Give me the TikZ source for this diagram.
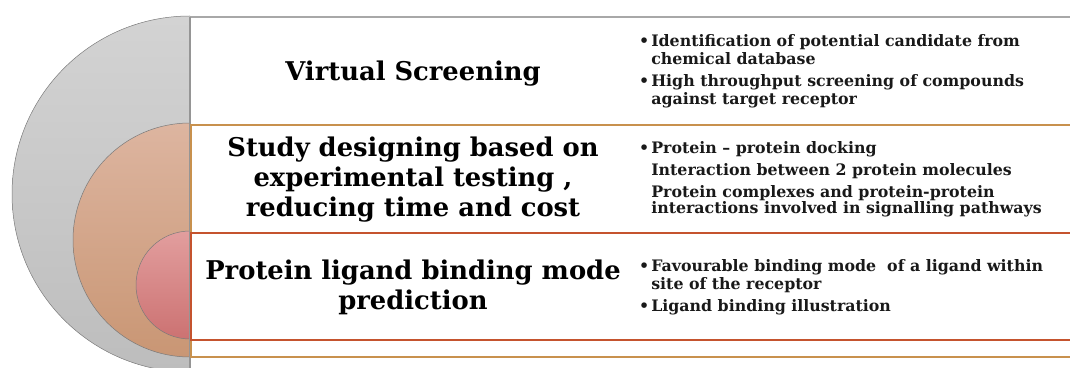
\documentclass[tikz,border=0pt]{standalone}
\usepackage{fontspec}
\setmainfont{DejaVu Serif}
\usetikzlibrary{shadings}
\definecolor{grayA}{HTML}{D3D3D3}
\definecolor{grayB}{HTML}{BDBDBD}
\definecolor{tanA}{HTML}{DDB5A0}
\definecolor{tanB}{HTML}{C99674}
\definecolor{pinkA}{HTML}{E29E9E}
\definecolor{pinkB}{HTML}{CC7272}
\definecolor{tanline}{HTML}{C8914E}
\definecolor{redline}{HTML}{C5532E}
\definecolor{grayline}{HTML}{A8A8A8}
\definecolor{arcline}{HTML}{7A7A7A}
\tikzset{
  title/.style={font=\bfseries\fontsize{25.8}{30}\selectfont, align=center, text=black},
  bullets/.style={font=\bfseries\fontsize{15.8}{18}\selectfont, anchor=north west, inner sep=0pt, text=black!90}
}
\begin{document}
\begin{tikzpicture}[x=1pt,y=1pt]
\useasboundingbox (0,0) rectangle (1070,367);
\clip (0,0) rectangle (1070,367);
% gray half circle
\path[top color=grayA, bottom color=grayB] (190,351) arc[start angle=90, end angle=270, radius=178] -- cycle;
\draw[arcline, line width=0.5pt] (190,351) arc[start angle=90, end angle=270, radius=178];
% tan half circle
\path[top color=tanA, bottom color=tanB] (190,244) arc[start angle=90, end angle=270, radius=117] -- cycle;
\draw[arcline, line width=0.5pt] (190,244) arc[start angle=90, end angle=270, radius=117];
% pink half circle
\path[top color=pinkA, bottom color=pinkB] (190,136) arc[start angle=90, end angle=270, radius=54] -- cycle;
\draw[arcline, line width=0.5pt] (190,136) arc[start angle=90, end angle=270, radius=54];
% rectangles
\draw[grayline, line width=1.2pt] (1080,350) -- (190,350);
\draw[arcline!80, line width=1.4pt] (190,350) -- (190,-10);
\draw[tanline, line width=1.3pt] (1080,242) -- (191,242) -- (191,10) -- (1080,10);
\draw[redline, line width=1.3pt] (1080,134) -- (191,134) -- (191,27) -- (1080,27);
% titles
\node[title] (t1) at (413,293) {Virtual Screening};
\node[title] (t2) at (413,187) {Study designing based on\\experimental testing ,\\reducing time and cost};
\node[title] (t3) at (413,80) {Protein ligand binding mode\\prediction};
% bullets
\node[bullets] (b1) at (639,333) {\begin{tabular}{@{}l@{\hspace{2pt}}l@{}}
\textbullet & Identification of potential candidate from\\
 & chemical database\\[4pt]
\textbullet & High throughput screening of compounds\\
 & against target receptor
\end{tabular}};
\node[bullets] (b2) at (639,226) {\begin{tabular}{@{}l@{\hspace{2pt}}l@{}}
\textbullet & Protein -- protein docking\\[4pt]
 & Interaction between 2 protein molecules\\[4pt]
 & Protein complexes and protein-protein\\[-2pt]
 & interactions involved in signalling pathways
\end{tabular}};
\node[bullets] (b3) at (639,108.5) {\begin{tabular}{@{}l@{\hspace{2pt}}l@{}}
\textbullet & Favourable binding mode\ \ of a\ ligand within\\
 & site of the receptor\\[4pt]
\textbullet & Ligand binding illustration
\end{tabular}};
\end{tikzpicture}
\end{document}
